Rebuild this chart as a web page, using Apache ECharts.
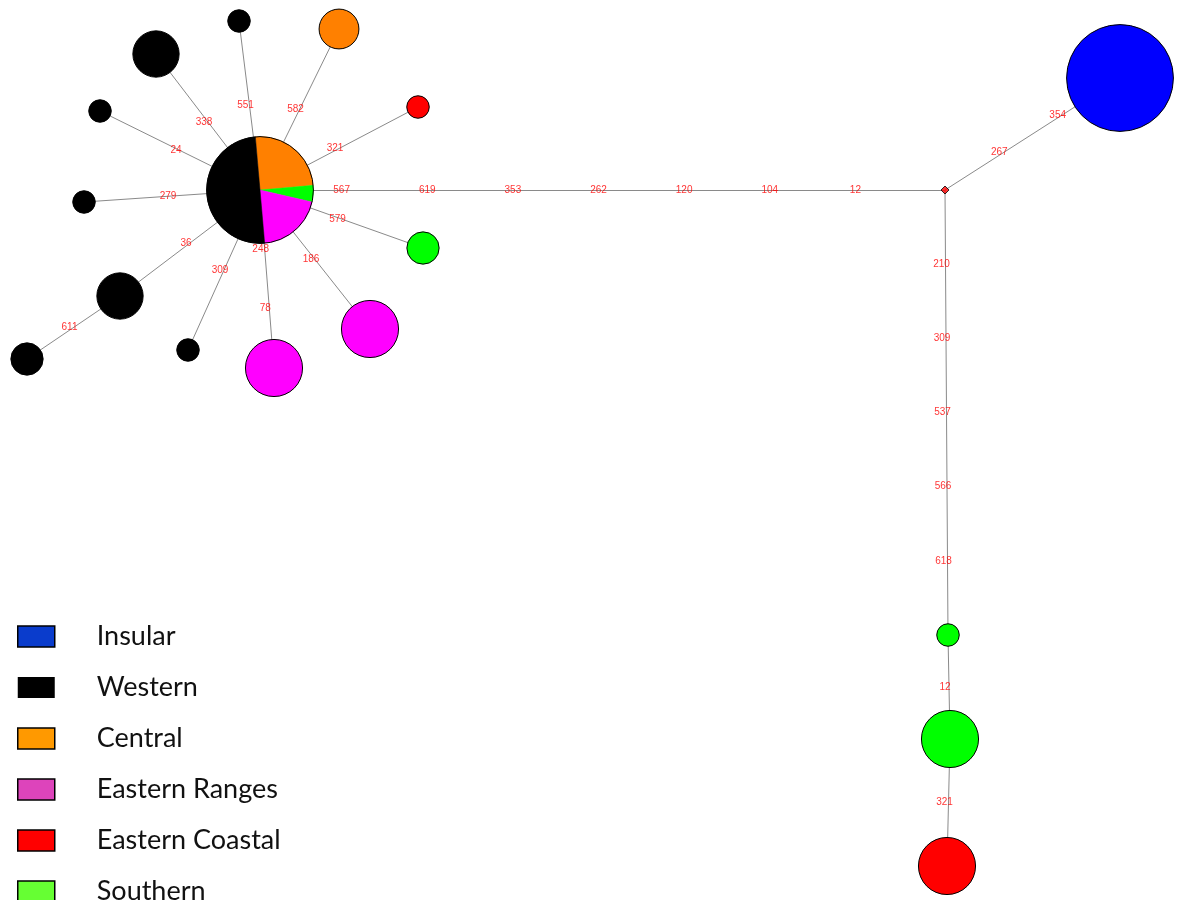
<!DOCTYPE html>
<html><head><meta charset="utf-8">
<script src="https://cdn.jsdelivr.net/npm/echarts@6/dist/echarts.min.js"></script>
<style>html,body{margin:0;padding:0;background:#fff}#chart{width:1177px;height:900px}</style>
</head><body><div id="chart"></div>
<script>
const regions = ['Insular', 'Western', 'Central', 'Eastern Ranges', 'Eastern Coastal', 'Southern'];

// haplotype layout coordinates (network layout units), frequency and region
const hapX      = [260, 239, 339, 156, 100, 418, 84, 423, 120, 27, 188, 274, 370, 945, 1120, 948, 950, 947];
const hapY      = [190, 21, 29, 54, 111, 107, 202, 248, 296, 359, 350, 368, 329, 190, 78, 635, 739, 866];
const hapFreq   = [20, 1, 3, 4, 1, 1, 1, 2, 4, 2, 1, 6, 6, 0, 20, 1, 6, 6];
const hapRegion = ['mixed', 'Western', 'Central', 'Western', 'Western', 'Eastern Coastal', 'Western', 'Southern',
                   'Western', 'Western', 'Western', 'Eastern Ranges', 'Eastern Ranges', 'median', 'Insular',
                   'Southern', 'Southern', 'Eastern Coastal'];

// composition of the shared (central) haplotype
const mixedRegions = ['Central', 'Southern', 'Eastern Ranges', 'Western'];
const mixedCounts  = [5, 1, 4, 10];

// edges and the mutation positions labelled on them
const edgeFrom = [0, 0, 0, 0, 0, 0, 0, 0, 8, 0, 0, 0, 0, 13, 13, 15, 16];
const edgeTo   = [1, 2, 3, 4, 5, 6, 7, 8, 9, 10, 11, 12, 13, 14, 15, 16, 17];
const edgeMutations = [
  [551], [582], [338], [24], [321], [279], [579], [36], [611], [309], [248, 78], [186],
  [567, 619, 353, 262, 120, 104, 12], [267, 354], [210, 309, 537, 566, 618], [12], [321]
];

// ---- Styles ----
const nodeColors = {
  'Insular': '#0000ff', 'Western': '#000000', 'Central': '#ff8000',
  'Eastern Ranges': '#ff00ff', 'Eastern Coastal': '#ff0000', 'Southern': '#00ff00'
};
const legendColors = {
  'Insular': '#0a3ccc', 'Western': '#000000', 'Central': '#ff9900',
  'Eastern Ranges': '#dd44bb', 'Eastern Coastal': '#ff0000', 'Southern': '#66ff33'
};
function nodeSize(freq) { return 22.5 * Math.pow(freq, 0.52); }

// ---- Build series ----
const series = [];

// edges
series.push({
  type: 'lines', coordinateSystem: 'cartesian2d', z: 1, silent: true,
  lineStyle: { color: '#8a8a8a', width: 1, opacity: 1 },
  data: edgeFrom.map((f, i) => ({ coords: [[hapX[f], hapY[f]], [hapX[edgeTo[i]], hapY[edgeTo[i]]]] }))
});

// nodes per region
regions.forEach(reg => {
  const data = [];
  hapRegion.forEach((r, i) => { if (r === reg) data.push([hapX[i], hapY[i], hapFreq[i]]); });
  series.push({
    name: reg, type: 'scatter', z: 3, silent: true,
    symbolSize: v => nodeSize(v[2]),
    itemStyle: { color: nodeColors[reg], borderColor: '#000', borderWidth: 1, opacity: 1 },
    data
  });
});

// median vector
series.push({
  name: 'median', type: 'scatter', z: 3, silent: true, symbol: 'diamond', symbolSize: [8, 8],
  itemStyle: { color: '#ff0000', borderColor: '#000', borderWidth: 1 },
  data: hapRegion.map((r, i) => r === 'median' ? [hapX[i], hapY[i]] : null).filter(Boolean)
});

// shared haplotype as pie
const mixedIdx = hapRegion.indexOf('mixed');
series.push({
  name: 'shared', type: 'custom', z: 3, silent: true,
  encode: { x: 0, y: 1 },
  data: [[hapX[mixedIdx], hapY[mixedIdx], hapFreq[mixedIdx]]],
  renderItem(params, api) {
    const c = api.coord([api.value(0), api.value(1)]);
    const r = nodeSize(api.value(2)) / 2;
    const total = mixedCounts.reduce((a, b) => a + b, 0);
    let a = -95 * Math.PI / 180;
    const children = [];
    mixedCounts.forEach((n, i) => {
      const b = a + n / total * Math.PI * 2;
      children.push({
        type: 'sector',
        shape: { cx: c[0], cy: c[1], r0: 0, r: r, startAngle: a, endAngle: b, clockwise: true },
        style: { fill: nodeColors[mixedRegions[i]], stroke: nodeColors[mixedRegions[i]], lineWidth: 0.5 }
      });
      a = b;
    });
    children.push({ type: 'circle', shape: { cx: c[0], cy: c[1], r: r }, style: { fill: 'none', stroke: '#000', lineWidth: 1 } });
    return { type: 'group', children };
  }
});

// mutation labels, evenly spaced along each edge
const labelData = [];
edgeFrom.forEach((f, i) => {
  const t = edgeTo[i];
  const muts = edgeMutations[i];
  muts.forEach((m, k) => {
    const s = (k + 1) / (muts.length + 1);
    labelData.push([hapX[f] + (hapX[t] - hapX[f]) * s, hapY[f] + (hapY[t] - hapY[f]) * s, String(m)]);
  });
});
series.push({
  name: 'mutations', type: 'scatter', z: 5, silent: true, symbolSize: 1,
  itemStyle: { color: 'rgba(0,0,0,0)' },
  label: {
    show: true, position: 'inside', offset: [-4, 0], formatter: p => p.value[2],
    color: '#ff0000', fontSize: 10, fontFamily: 'Liberation Sans, Arial, sans-serif'
  },
  data: labelData
});

const chart = echarts.init(document.getElementById('chart'), null, { renderer: 'canvas' });
chart.setOption({
  animation: false,
  backgroundColor: '#ffffff',
  grid: { left: 0, right: 0, top: 0, bottom: 0 },
  xAxis: { type: 'value', min: 0, max: 1177, show: false },
  yAxis: { type: 'value', min: 0, max: 900, inverse: true, show: false },
  legend: {
    orient: 'vertical', left: 12, top: 618, height: 300, itemWidth: 37, itemHeight: 21, itemGap: 24,
    selectedMode: false, icon: 'rect',
    textStyle: { fontSize: 27, fontFamily: 'Lato, "Open Sans", sans-serif', color: '#111', padding: [0, 0, 0, 37] },
    data: regions.map(r => ({
      name: r,
      itemStyle: { color: legendColors[r], borderColor: '#000', borderWidth: r === 'Western' ? 0 : 1.5 }
    }))
  },
  series
});
</script>
</body></html>
